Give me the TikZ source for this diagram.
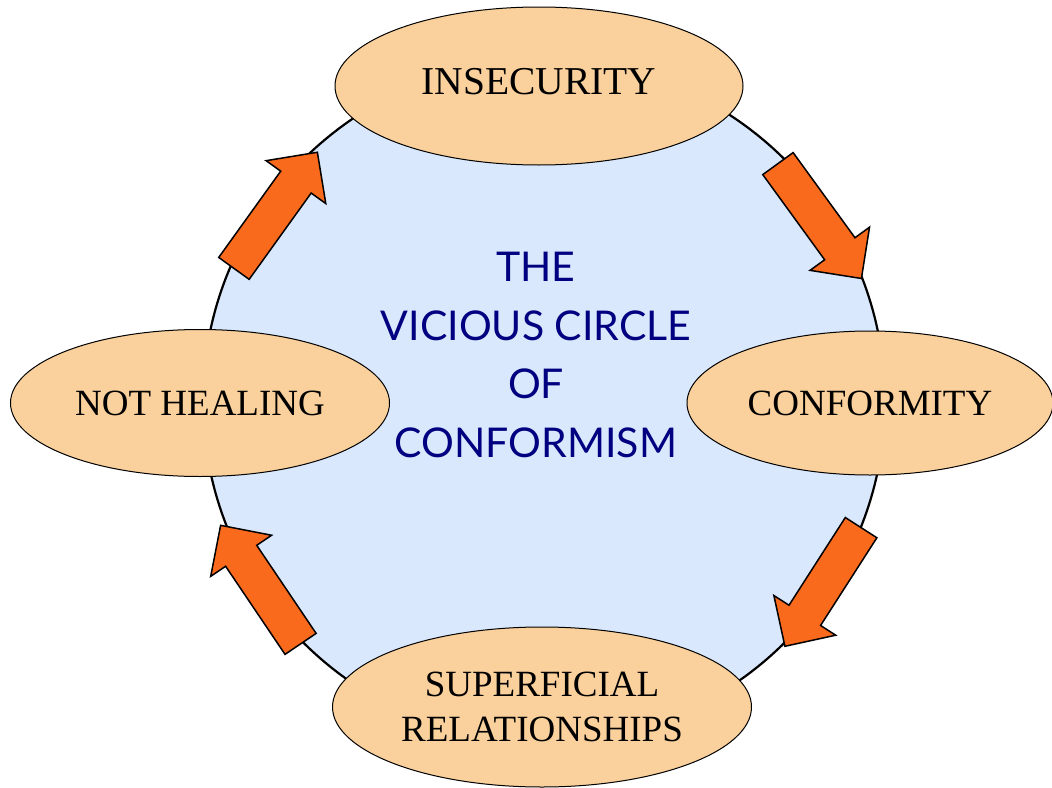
\documentclass[tikz,border=0pt]{standalone}
\usepackage{fontspec}
\setmainfont{Liberation Serif}
\newfontfamily\centerfont{Lato}
\usetikzlibrary{shapes.geometric,shapes.arrows}
\definecolor{peach}{RGB}{250,208,156}
\definecolor{paleblue}{RGB}{217,232,252}
\definecolor{arroworange}{RGB}{250,106,28}
\definecolor{navytext}{RGB}{0,0,128}
\begin{document}
\begin{tikzpicture}[x=1pt,y=-1pt,
  stage/.style={ellipse, draw=black, line width=1pt, fill=peach, inner sep=0pt,
    align=center, font=\fontsize{37}{45}\selectfont},
  blockarrow/.style={single arrow, draw=black, line width=1.5pt, fill=arroworange,
    minimum width=72pt, single arrow head extend=18pt, single arrow tip angle=90,
    inner xsep=0pt, inner ysep=18pt, line join=miter, anchor=tail}]
\useasboundingbox (0,0) rectangle (1052,787);
\fill[white] (0,0) rectangle (1052,787);
\node[circle, draw=black, line width=2.2pt, fill=paleblue, minimum size=682pt,
  inner sep=0pt] (circ) at (544,401) {};
\node[font=\centerfont\fontsize{41}{58.5}\selectfont, text=navytext, align=center]
  (title) at (536,355) {THE\\VICIOUS CIRCLE\\OF\\CONFORMISM};
\node[blockarrow, minimum height=143pt, rotate=54.3] (a1) at (233.5,269) {};
\node[blockarrow, minimum height=142pt, rotate=-54] (a2) at (777.5,163) {};
\node[blockarrow, minimum height=141pt, rotate=237.3] (a3) at (861.5,527) {};
\node[blockarrow, minimum height=143pt, rotate=124] (a4) at (301,644.5) {};
\node[stage, minimum width=408pt, minimum height=158pt, text depth=10pt,
  font=\fontsize{39.5}{45}\selectfont] (insec) at (539,86) {INSECURITY};
\node[stage, minimum width=366pt, minimum height=144pt] (conf) at (870,403) {CONFORMITY};
\node[stage, minimum width=419pt, minimum height=160pt] (sup) at (542,707) {SUPERFICIAL\\RELATIONSHIPS};
\node[stage, minimum width=379pt, minimum height=147pt] (heal) at (200,403) {NOT HEALING};
\end{tikzpicture}
\end{document}
